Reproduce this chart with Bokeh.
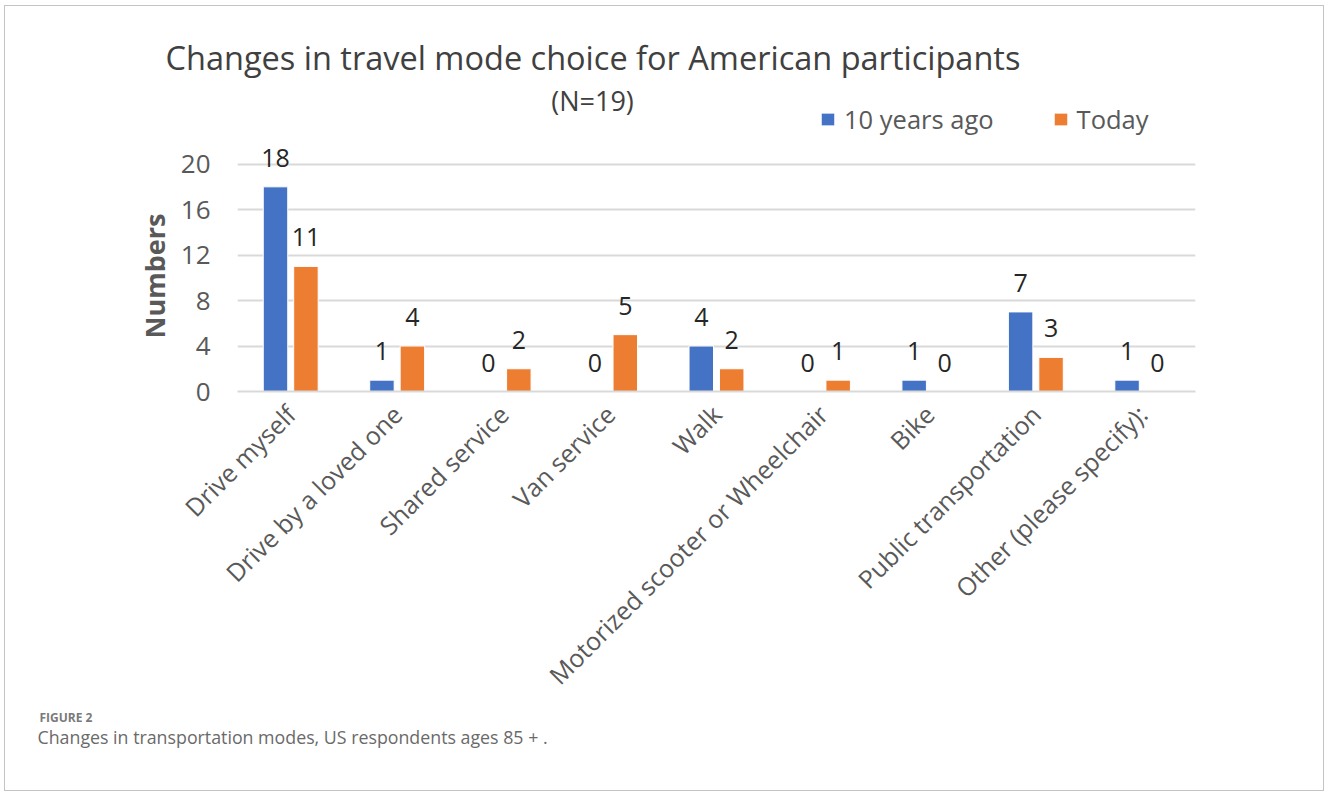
import math
from bokeh.plotting import figure
from bokeh.models import (ColumnDataSource, FixedTicker, Legend, LegendItem, Label, Title,
                          LinearAxis)
from bokeh.transform import dodge
from bokeh.core.properties import value
from bokeh.embed import file_html
from bokeh.resources import INLINE

# ---- data ----
categories = ["Drive myself", "Drive by a loved one", "Shared service", "Van service",
              "Walk", "Motorized scooter or Wheelchair", "Bike",
              "Public transportation", "Other (please specify):"]
ten_years_ago = [18, 1, 0, 0, 4, 0, 1, 7, 1]
today = [11, 4, 2, 5, 2, 1, 0, 3, 0]
series_names = ["10 years ago", "Today"]
y_ticks = [0, 4, 8, 12, 16, 20]

title_text = "Changes in travel mode choice for American participants"
subtitle_text = "(N=19)"
y_label = "Numbers"
fig_label = "FIGURE 2"
caption_text = "Changes in transportation modes, US respondents ages 85 + ."

BLUE = "#4472C4"
ORANGE = "#ED7D31"
GRID = "#D9D9D9"
TXT = "#595959"
FONT = "Open Sans"

src = ColumnDataSource(dict(
    cat=categories,
    a=ten_years_ago,
    b=today,
    a_txt=[str(v) for v in ten_years_ago],
    b_txt=[str(v) for v in today],
))

W, H = 1320, 786
p = figure(x_range=categories, y_range=(0, 27), width=W, height=H,
           output_backend="svg", toolbar_location=None,
           min_border_left=232, min_border_right=130,
           min_border_top=78, min_border_bottom=401)
p.styles = {"border": "1px solid #c4c4c4", "margin-left": "4px", "margin-top": "5px"}
p.outline_line_color = None
p.background_fill_color = "white"
p.border_fill_color = "white"

off = 0.143
bw = 0.23
r1 = p.vbar(x=dodge("cat", -off, range=p.x_range), top="a", width=bw, source=src,
            fill_color=BLUE, line_color="white", line_width=1)
r2 = p.vbar(x=dodge("cat", off, range=p.x_range), top="b", width=bw, source=src,
            fill_color=ORANGE, line_color="white", line_width=1)

for col, txt, o in (("a", "a_txt", -off), ("b", "b_txt", off)):
    p.text(x=dodge("cat", o, range=p.x_range), y=col, text=txt, source=src,
           text_align="center", text_baseline="middle", y_offset=-29,
           text_font=value(FONT), text_font_size="25px", text_color="#262626")

# axes
p.xgrid.grid_line_color = None
p.ygrid.ticker = FixedTicker(ticks=y_ticks)
p.ygrid.grid_line_color = GRID
p.ygrid.grid_line_width = 2

p.yaxis.ticker = FixedTicker(ticks=y_ticks)
p.yaxis.axis_line_color = None
p.yaxis.major_tick_line_color = None
p.yaxis.minor_tick_line_color = None
p.yaxis.major_tick_out = 0
p.yaxis.major_tick_in = 0
p.yaxis.major_label_standoff = 27
p.yaxis.major_label_text_font = FONT
p.yaxis.major_label_text_font_size = "26px"
p.yaxis.major_label_text_color = TXT

# y-axis title placed as a side title so it can sit over the 0-20 span
p.add_layout(Title(text=y_label, align="left", offset=53, standoff=10,
                   text_font=FONT, text_font_size="27px", text_font_style="bold",
                   text_color=TXT), "left")

p.xaxis.axis_line_color = GRID
p.xaxis.axis_line_width = 2
p.xaxis.major_tick_line_color = None
p.xaxis.minor_tick_line_color = None
p.xaxis.major_tick_out = 0
p.xaxis.major_tick_in = 0
p.xaxis.major_label_standoff = 18
p.xaxis.major_label_orientation = math.pi / 4
p.xaxis.major_label_text_font = FONT
p.xaxis.major_label_text_font_size = "25px"
p.xaxis.major_label_text_color = TXT

# tick-less spacer axis between the category labels and the caption
spacer = LinearAxis(ticker=FixedTicker(ticks=[]),
                    axis_line_color=None, major_tick_line_color="white",
                    minor_tick_line_color=None, major_tick_out=23, minor_tick_out=0,
                    major_tick_in=0, major_label_standoff=0)
p.add_layout(spacer, "below")

# legend
legend = Legend(items=[LegendItem(label=series_names[0], renderers=[r1]),
                       LegendItem(label=series_names[1], renderers=[r2])],
                location=(582, 255), orientation="horizontal",
                glyph_width=17, glyph_height=16, label_standoff=8, spacing=58,
                padding=0, margin=0, border_line_color=None,
                background_fill_alpha=0,
                label_text_font=FONT, label_text_font_size="25.5px",
                label_text_color=TXT)
p.add_layout(legend, "center")

# subtitle inside the frame (screen units relative to frame)
p.add_layout(Label(x=355, y=291, x_units="screen", y_units="screen", text=subtitle_text,
                   text_align="center", text_baseline="middle", text_font=FONT,
                   text_font_size="27px", text_color="#404040"))

# main title above
p.add_layout(Title(text=title_text, align="left", offset=-72, standoff=9.5,
                   text_font=FONT, text_font_size="32.5px", text_font_style="normal",
                   text_color="#404040"), "above")

# caption below
p.add_layout(Title(text=fig_label, align="left", offset=-198, standoff=0,
                   text_font=FONT, text_font_size="12px", text_font_style="bold",
                   text_color="#7a7a7a"), "below")
p.add_layout(Title(text=caption_text, align="left", offset=-200, standoff=-6,
                   text_font=FONT, text_font_size="17.8px", text_font_style="normal",
                   text_color="#6a6a6a"), "below")

open("out.html", "w").write(file_html(p, INLINE))
